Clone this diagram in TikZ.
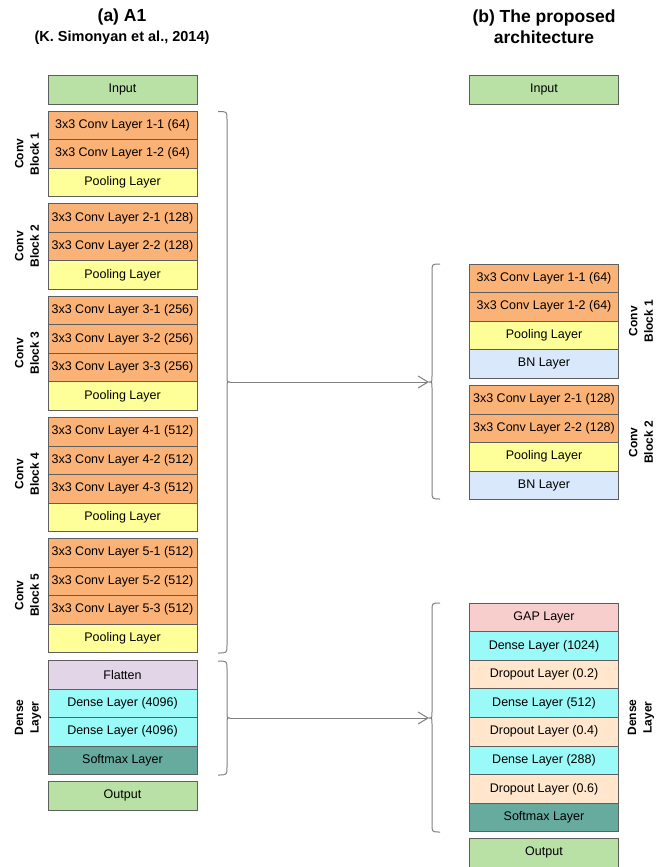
\documentclass[tikz,border=0pt]{standalone}
\usepackage{fontspec}
\setmainfont{Liberation Sans}
\usetikzlibrary{positioning,arrows.meta}

\definecolor{ioGreen}{HTML}{B9E0A5}
\definecolor{convOrange}{HTML}{FBB276}
\definecolor{poolYellow}{HTML}{FFFF99}
\definecolor{bnBlue}{HTML}{DAE8FC}
\definecolor{flatPurple}{HTML}{E1D5E7}
\definecolor{denseCyan}{HTML}{99FAF8}
\definecolor{softTeal}{HTML}{67AB9F}
\definecolor{dropPeach}{HTML}{FFE6CC}
\definecolor{gapPink}{HTML}{F8CECC}
\definecolor{edgeGray}{HTML}{5E5E5E}
\definecolor{braceGray}{HTML}{7F7F7F}

\tikzset{
  layer/.style={draw=edgeGray, line width=0.8pt, minimum width=149pt,
    minimum height=28.5pt, inner sep=0pt, outer sep=0pt, anchor=north,
    font=\fontsize{12.5}{14}\selectfont},
  io/.style={layer, fill=ioGreen},
  conv/.style={layer, fill=convOrange},
  pool/.style={layer, fill=poolYellow},
  bn/.style={layer, fill=bnBlue},
  flat/.style={layer, fill=flatPurple},
  dense/.style={layer, fill=denseCyan},
  soft/.style={layer, fill=softTeal},
  drop/.style={layer, fill=dropPeach},
  gap/.style={layer, fill=gapPink},
  blocklabel/.style={rotate=90, align=center, font=\bfseries\fontsize{12}{15.5}\selectfont},
  brace/.style={draw=braceGray, line width=1pt},
  link/.style={draw=braceGray, line width=1pt, -{Straight Barb[length=10pt,width=12pt]}},
}

\begin{document}
\begin{tikzpicture}[x=1pt,y=-1pt]
\useasboundingbox (0,0) rectangle (666,867);

% titles
\node[anchor=base, font=\bfseries\fontsize{17.5}{20}\selectfont] (ta) at (122,21.5) {(a) A1};
\node[anchor=base, font=\bfseries\fontsize{14.5}{17}\selectfont] (tas) at (122,42) {(K. Simonyan et al., 2014)};
\node[align=center, font=\bfseries\fontsize{17.5}{20.5}\selectfont] (tb) at (544,26.5) {(b) The proposed\\architecture};

% ---- left column: A1 ----
\node[io] (l-in) at (122.5,75.5) {Input};

\node[conv] (l-c11) at (122.5,111) {3x3 Conv Layer 1-1 (64)};
\node[conv, below=0pt of l-c11] (l-c12) {3x3 Conv Layer 1-2 (64)};
\node[pool, below=0pt of l-c12] (l-p1) {Pooling Layer};

\node[conv] (l-c21) at (122.5,203.65) {3x3 Conv Layer 2-1 (128)};
\node[conv, below=0pt of l-c21] (l-c22) {3x3 Conv Layer 2-2 (128)};
\node[pool, below=0pt of l-c22] (l-p2) {Pooling Layer};

\node[conv] (l-c31) at (122.5,296.3) {3x3 Conv Layer 3-1 (256)};
\node[conv, below=0pt of l-c31] (l-c32) {3x3 Conv Layer 3-2 (256)};
\node[conv, below=0pt of l-c32] (l-c33) {3x3 Conv Layer 3-3 (256)};
\node[pool, below=0pt of l-c33] (l-p3) {Pooling Layer};

\node[conv] (l-c41) at (122.5,417.4) {3x3 Conv Layer 4-1 (512)};
\node[conv, below=0pt of l-c41] (l-c42) {3x3 Conv Layer 4-2 (512)};
\node[conv, below=0pt of l-c42] (l-c43) {3x3 Conv Layer 4-3 (512)};
\node[pool, below=0pt of l-c43] (l-p4) {Pooling Layer};

\node[conv] (l-c51) at (122.5,538.5) {3x3 Conv Layer 5-1 (512)};
\node[conv, below=0pt of l-c51] (l-c52) {3x3 Conv Layer 5-2 (512)};
\node[conv, below=0pt of l-c52] (l-c53) {3x3 Conv Layer 5-3 (512)};
\node[pool, below=0pt of l-c53] (l-p5) {Pooling Layer};

\node[flat] (l-fl) at (122.5,660.5) {Flatten};
\node[dense, below=0pt of l-fl] (l-d1) {Dense Layer (4096)};
\node[dense, below=0pt of l-d1] (l-d2) {Dense Layer (4096)};
\node[soft, below=0pt of l-d2] (l-sm) {Softmax Layer};

\node[io] (l-out) at (122.5,781.6) {Output};

% left block labels
\node[blocklabel] (l-lab1) at (27,153.7) {Conv\\Block 1};
\node[blocklabel] (l-lab2) at (27,246.3) {Conv\\Block 2};
\node[blocklabel] (l-lab3) at (27,353.2) {Conv\\Block 3};
\node[blocklabel] (l-lab4) at (27,474.3) {Conv\\Block 4};
\node[blocklabel] (l-lab5) at (27,595.4) {Conv\\Block 5};
\node[blocklabel] (l-lab6) at (28,717.4) {Dense\\Layer};

% ---- right column: proposed ----
\node[io] (r-in) at (544,75.5) {Input};

\node[conv] (r-c11) at (544,264) {3x3 Conv Layer 1-1 (64)};
\node[conv, below=0pt of r-c11] (r-c12) {3x3 Conv Layer 1-2 (64)};
\node[pool, below=0pt of r-c12] (r-p1) {Pooling Layer};
\node[bn, below=0pt of r-p1] (r-bn1) {BN Layer};

\node[conv] (r-c21) at (544,385.5) {3x3 Conv Layer 2-1 (128)};
\node[conv, below=0pt of r-c21] (r-c22) {3x3 Conv Layer 2-2 (128)};
\node[pool, below=0pt of r-c22] (r-p2) {Pooling Layer};
\node[bn, below=0pt of r-p2] (r-bn2) {BN Layer};

\node[gap, minimum height=28.6pt] (r-gap) at (544,603) {GAP Layer};
\node[dense, minimum height=28.6pt, below=0pt of r-gap] (r-d1) {Dense Layer (1024)};
\node[drop, minimum height=28.6pt, below=0pt of r-d1] (r-o1) {Dropout Layer (0.2)};
\node[dense, minimum height=28.6pt, below=0pt of r-o1] (r-d2) {Dense Layer (512)};
\node[drop, minimum height=28.6pt, below=0pt of r-d2] (r-o2) {Dropout Layer (0.4)};
\node[dense, minimum height=28.6pt, below=0pt of r-o2] (r-d3) {Dense Layer (288)};
\node[drop, minimum height=28.6pt, below=0pt of r-d3] (r-o3) {Dropout Layer (0.6)};
\node[soft, minimum height=28.6pt, below=0pt of r-o3] (r-sm) {Softmax Layer};

\node[io] (r-out) at (544,838.5) {Output};

% right block labels
\node[blocklabel] (r-lab1) at (641,321) {Conv\\Block 1};
\node[blocklabel] (r-lab2) at (641,442.5) {Conv\\Block 2};
\node[blocklabel] (r-lab3) at (641,717.4) {Dense\\Layer};

% ---- braces ----
% conv part of A1
\draw[brace] (218,111.5) .. controls (227,111.5) .. (227,119.5) -- (227,376)
  .. controls (227,382) .. (230,382) .. controls (227,382) .. (227,388)
  -- (227,645) .. controls (227,653) .. (218,653);
\coordinate (lb1) at (230,382);
% dense part of A1
\draw[brace] (218,661) .. controls (227,661) .. (227,669) -- (227,712)
  .. controls (227,718) .. (230,718) .. controls (227,718) .. (227,724)
  -- (227,767) .. controls (227,775) .. (218,775);
\coordinate (lb2) at (230,718);
% conv part of the proposed model
\draw[brace] (440,264) .. controls (432,264) .. (432,272) -- (432,376)
  .. controls (432,382) .. (429,382) .. controls (432,382) .. (432,388)
  -- (432,491) .. controls (432,499) .. (440,499);
\coordinate (rb1) at (429,382);
% dense part of the proposed model
\draw[brace] (440,603) .. controls (432,603) .. (432,611) -- (432,712)
  .. controls (432,718) .. (429,718) .. controls (432,718) .. (432,724)
  -- (432,824) .. controls (432,832) .. (440,832);
\coordinate (rb2) at (429,718);

% ---- connectors ----
\draw[link] (lb1) -- (rb1);
\draw[link] (lb2) -- (rb2);
\end{tikzpicture}
\end{document}
